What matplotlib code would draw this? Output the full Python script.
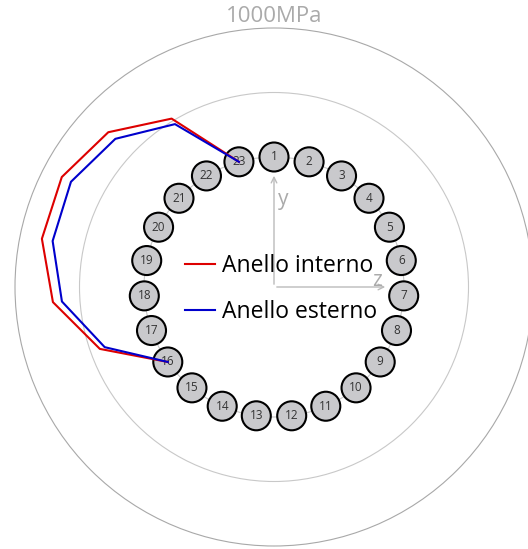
import numpy as np
import matplotlib.pyplot as plt
from matplotlib.patches import Circle

plt.rcParams['font.family'] = ['Open Sans', 'DejaVu Sans']

# bolt pattern and stresses (MPa) on the loaded bolts
n_bolts = 23
bolt_ids = list(range(1, n_bolts + 1))
curve_bolts = [16, 17, 18, 19, 20, 21, 22, 23]
sigma_interno = [0, 425, 710, 830, 845, 750, 520, 0]
sigma_esterno = [0, 385, 640, 745, 765, 675, 470, 0]
ref_levels = [500, 1000]
ref_label = "1000MPa"

R_BOLT = 130.0   # bolt circle radius (drawing units)
K = 0.129        # drawing units per MPa
R_HOLE = 14.5


def polar(bolt, r):
    a = np.radians((np.asarray(bolt) - 1) * 360.0 / n_bolts)
    return r * np.sin(a), r * np.cos(a)


fig = plt.figure(figsize=(5.28, 5.49), dpi=100)
ax = fig.add_axes([0, 0, 1, 1])
ax.set_xlim(-274, 254)
ax.set_ylim(-262, 287)
ax.axis('off')

# reference circles
for lev, col in zip(ref_levels, ['#c8c8c8', '#a8a8a8']):
    ax.add_patch(Circle((0, 0), R_BOLT + lev * K, fill=False, ec=col, lw=0.8))
ax.text(0, R_BOLT + ref_levels[-1] * K + 1, ref_label, ha='center', va='bottom',
        fontsize=16, color='#aaaaaa')

# bolt circle and bolts
ax.add_patch(Circle((0, 0), R_BOLT, fill=False, ec='#c8c8c8', lw=0.8, zorder=1))
for b in bolt_ids:
    x, y = polar(b, R_BOLT)
    ax.add_patch(Circle((x, y), R_HOLE, fc='#c9c9cc', ec='black', lw=1.5, zorder=2))
    ax.text(x, y, str(b), ha='center', va='center', fontsize=8.5, color='#333333', zorder=3)

# local axes
ax.annotate('', xy=(0, 114), xytext=(0, 0),
            arrowprops=dict(arrowstyle='->', color='#bbbbbb', lw=1))
ax.annotate('', xy=(114, 0), xytext=(0, 0),
            arrowprops=dict(arrowstyle='->', color='#bbbbbb', lw=1))
ax.text(9, 88, 'y', ha='center', va='center', fontsize=15, color='#aaaaaa')
ax.text(103, 7, 'z', ha='center', va='center', fontsize=15, color='#aaaaaa')

# stress curves
for sig, col, lab in [(sigma_interno, '#dd0000', 'Anello interno'),
                      (sigma_esterno, '#0000cc', 'Anello esterno')]:
    x, y = polar(curve_bolts, R_BOLT + np.array(sig) * K)
    ax.plot(x, y, color=col, lw=1.5, label=lab, zorder=4)

ax.legend(loc='center left', bbox_to_anchor=(185 / 528, 1 - 289 / 549),
          frameon=False, fontsize=16.5, handlelength=1.31, handletextpad=0.3,
          labelspacing=0.98, borderpad=0, borderaxespad=0)

fig.savefig('out.png', dpi=100)
